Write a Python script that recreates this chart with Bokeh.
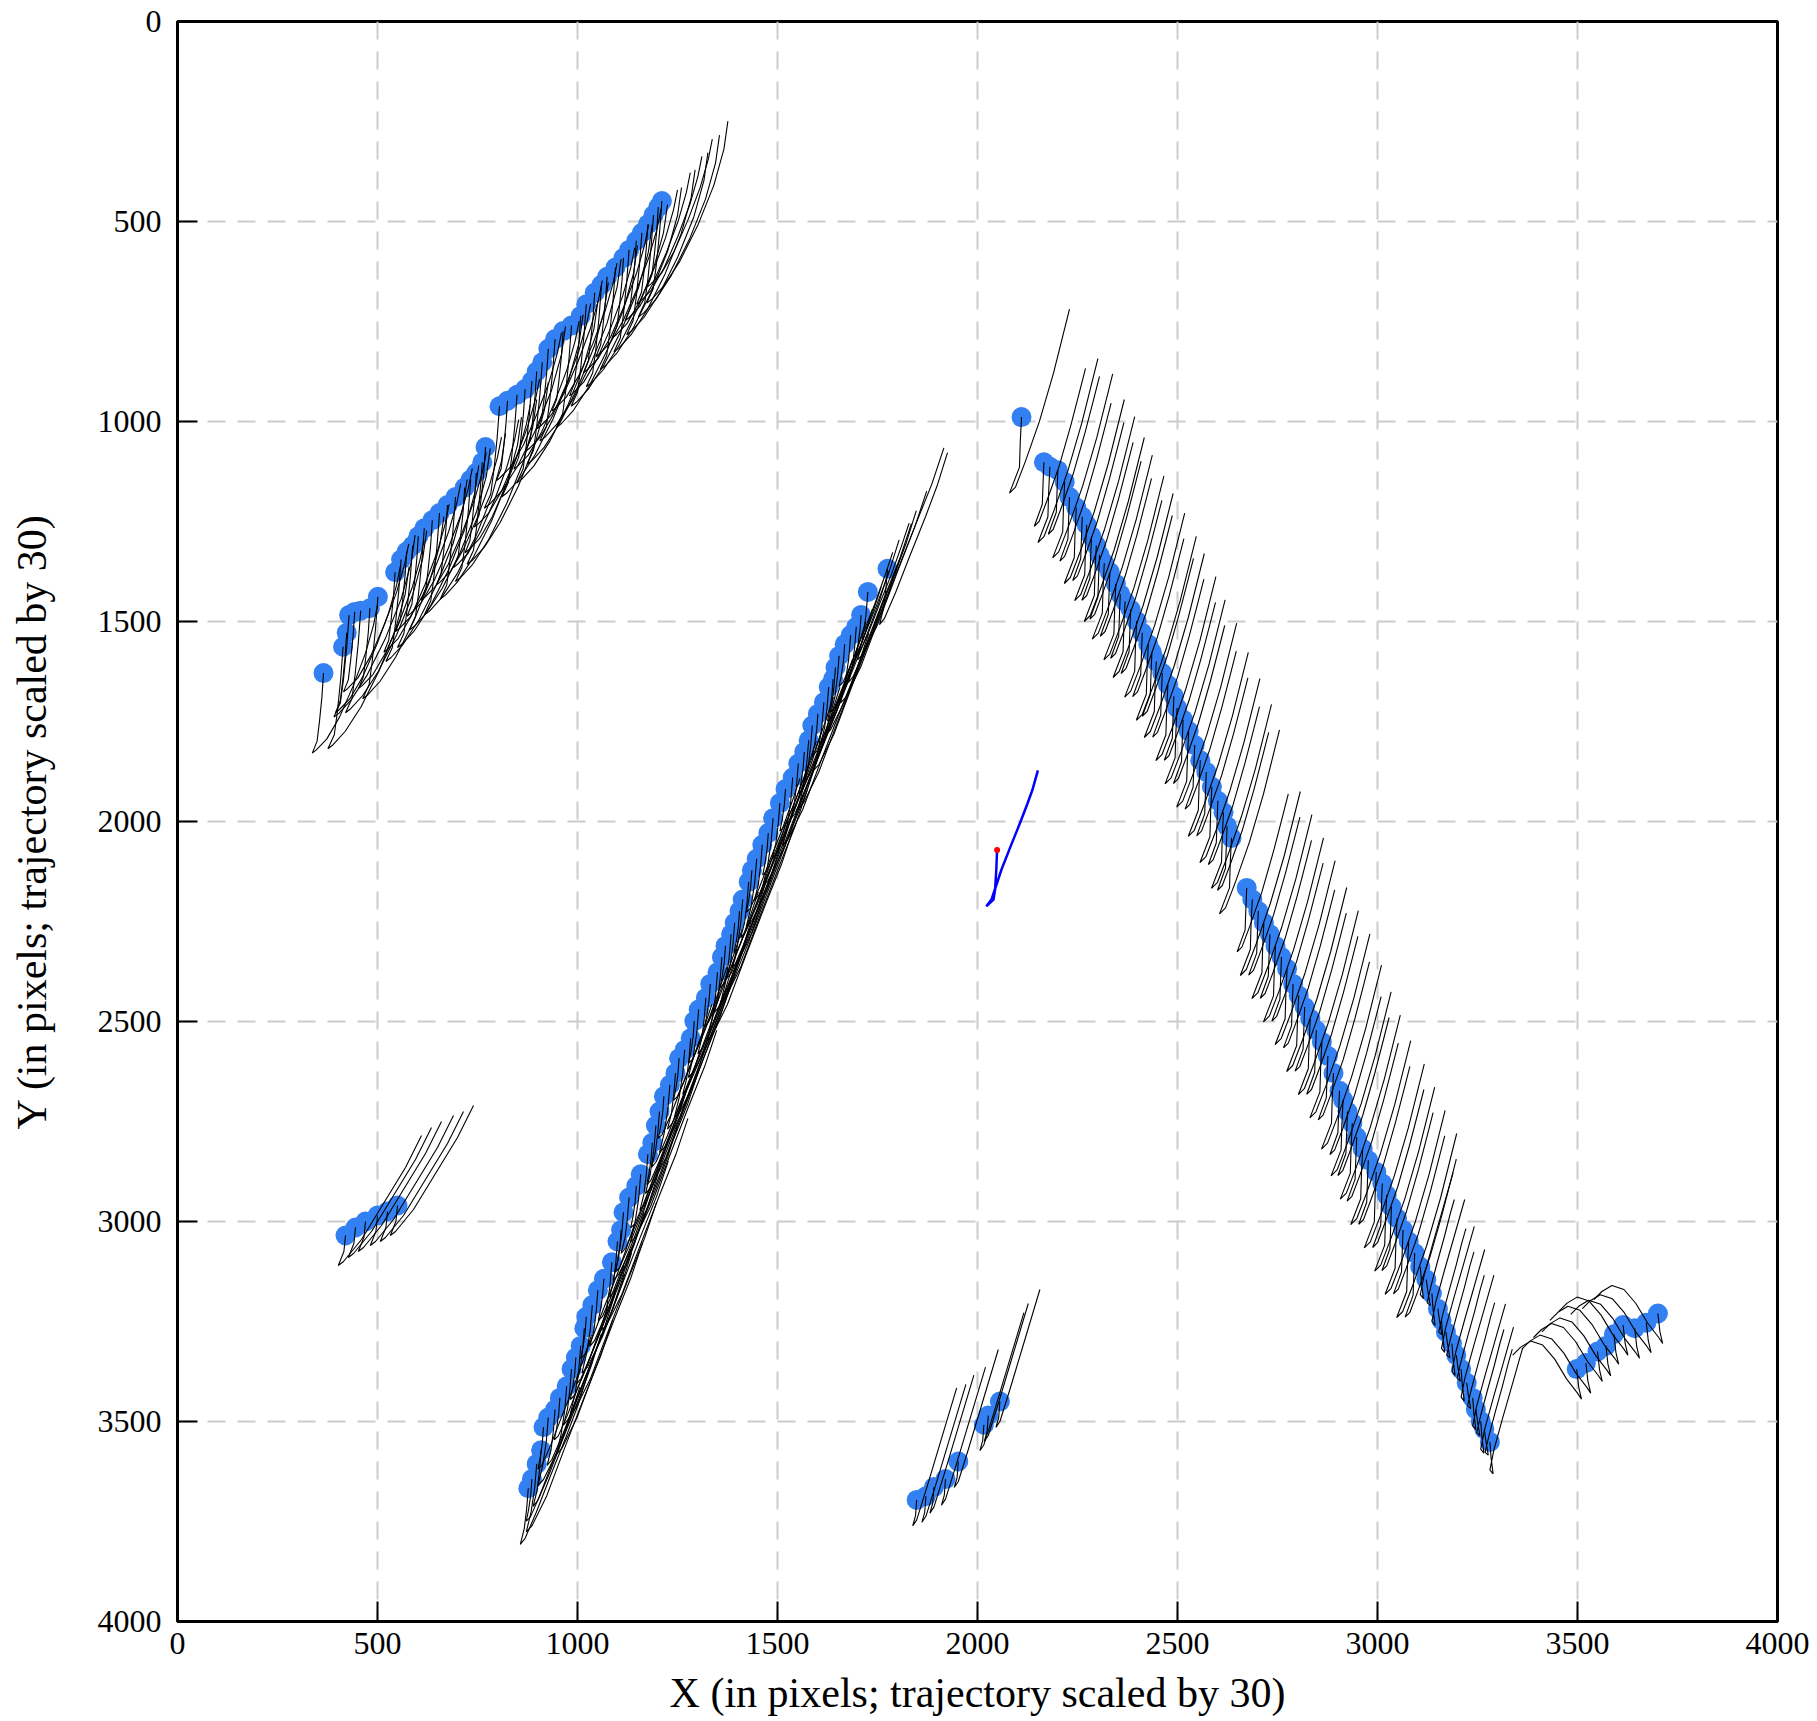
from bokeh.plotting import figure
from bokeh.models import Range1d, FixedTicker
from bokeh.embed import file_html
from bokeh.resources import INLINE

# ---------------- data (image pixel coordinates) ----------------
ticks = [0, 500, 1000, 1500, 2000, 2500, 3000, 3500, 4000]

# cluster A (upper-left band)
a_x = [365, 414, 423, 429, 443, 458, 481, 501, 544, 559, 573, 588, 602, 617, 637, 655, 675, 695,
       718, 733, 747, 762, 770, 805, 825, 849, 869, 886, 898, 912, 927, 944, 964, 985, 1008, 1022,
       1043, 1060, 1074, 1095, 1115, 1129, 1147, 1161, 1176, 1190, 1202, 1211]
a_y = [1629, 1563, 1528, 1484, 1476, 1473, 1467, 1438, 1377, 1345, 1325, 1310, 1287, 1267, 1247,
       1229, 1209, 1189, 1165, 1145, 1128, 1102, 1064, 962, 948, 933, 919, 899, 875, 852, 818, 794,
       774, 760, 736, 707, 678, 658, 638, 615, 591, 571, 548, 528, 507, 484, 464, 449]
a_tpl = [([0, -4, -10, -16, -28, -18, 8, 40, 75, 105, 125, 135],
          [0, 60, 120, 170, 200, 192, 165, 110, 30, -50, -120, -170]),
         ([0, -6, -14, -22, -38, -25, 5, 45, 90, 130, 155, 165],
          [0, 80, 160, 220, 255, 245, 212, 150, 60, -40, -130, -200])]

# cluster B (long middle band)
b_x = [877, 886, 898, 909, 915, 927, 944, 956, 973, 985, 996, 1008, 1017, 1022, 1037, 1051, 1066,
       1086, 1100, 1109, 1115, 1129, 1147, 1158, 1176, 1187, 1196, 1205, 1216, 1231, 1245, 1254,
       1268, 1283, 1292, 1303, 1321, 1332, 1350, 1361, 1370, 1384, 1393, 1405, 1413, 1428, 1436,
       1448, 1462, 1477, 1489, 1506, 1520, 1538, 1552, 1567, 1578, 1587, 1601, 1616, 1628, 1639,
       1645, 1654, 1668, 1683, 1697, 1709, 1726, 1775]
b_y = [3667, 3644, 3606, 3572, 3514, 3490, 3470, 3441, 3412, 3369, 3340, 3311, 3267, 3238, 3209,
       3172, 3143, 3102, 3050, 3021, 2977, 2940, 2911, 2882, 2832, 2803, 2760, 2725, 2687, 2658,
       2629, 2592, 2571, 2542, 2499, 2470, 2441, 2406, 2377, 2339, 2311, 2282, 2253, 2224, 2195,
       2151, 2122, 2093, 2058, 2029, 1992, 1954, 1919, 1890, 1855, 1826, 1797, 1760, 1731, 1702,
       1664, 1644, 1615, 1586, 1557, 1534, 1513, 1484, 1426, 1368]
b_tpl = [([0, -4, -10, -20, -8, 20, 55, 95, 125, 150],
          [0, 50, 100, 140, 125, 60, -30, -130, -210, -290]),
         ([0, -3, -8, -14, -4, 18, 45, 75, 100, 120],
          [0, 40, 75, 105, 95, 45, -25, -100, -170, -230]),
         ([0, -5, -14, -26, -12, 25, 70, 120, 160, 190],
          [0, 60, 120, 170, 155, 80, -40, -170, -270, -360])]

# cluster C, upper part (right descending band)
c_x = [2110, 2166, 2181, 2201, 2218, 2230, 2247, 2262, 2273, 2285, 2297, 2305, 2317, 2331, 2346,
       2357, 2369, 2383, 2398, 2412, 2427, 2436, 2447, 2462, 2476, 2491, 2499, 2514, 2528, 2543,
       2557, 2572, 2586, 2601, 2615, 2624, 2635, 2673, 2687, 2702, 2716, 2731, 2745, 2760, 2774,
       2789, 2803, 2818, 2832, 2847, 2861, 2876, 2890, 2905, 2914, 2925, 2937, 2948, 2963, 2977,
       2997, 3012, 3023, 3035, 3049, 3064, 3078, 3093]
c_y = [989, 1102, 1113, 1122, 1151, 1189, 1215, 1238, 1258, 1287, 1310, 1334, 1354, 1377, 1406,
       1432, 1450, 1470, 1499, 1528, 1557, 1577, 1600, 1629, 1658, 1687, 1716, 1745, 1774, 1809,
       1847, 1876, 1913, 1948, 1977, 2012, 2041, 2166, 2195, 2224, 2253, 2282, 2311, 2339, 2368,
       2406, 2435, 2464, 2493, 2522, 2551, 2586, 2629, 2673, 2696, 2725, 2754, 2789, 2818, 2847,
       2876, 2905, 2934, 2963, 2992, 3021, 3050, 3079]
c_tpl = [([0, -3, -5, -30, -15, 10, 45, 80, 105, 120],
          [0, 60, 125, 190, 175, 110, 10, -110, -210, -270]),
         ([0, -2, -4, -24, -12, 8, 38, 68, 90, 104],
          [0, 50, 105, 160, 148, 95, 10, -95, -180, -235])]

# cluster C, lowest part (shorter tracks)
g_x = [3107, 3122, 3136, 3151, 3160, 3171, 3186, 3197, 3209, 3223, 3238, 3246, 3258, 3267, 3281]
g_y = [3113, 3145, 3180, 3218, 3247, 3276, 3305, 3334, 3369, 3403, 3441, 3470, 3499, 3519, 3551]
g_tpl = [([0, 3, 8, 0, 10, 32, 55, 72, 82],
          [0, 40, 80, 70, 20, -60, -140, -200, -235]),
         ([0, 4, 10, 2, 12, 28, 46, 60, 70],
          [0, 30, 65, 58, 15, -45, -110, -165, -200])]

# cluster D (small lower-left group)
d_x = [420, 445, 470, 500, 525, 550]
d_y = [3035, 3015, 3000, 2985, 2975, 2960]
d_tpl = [([0, -4, -18, -5, 40, 95, 150, 190],
          [0, 40, 75, 65, 10, -80, -170, -250])]

# cluster E (bottom middle groups)
e_x = [1848, 1871, 1891, 1920, 1952, 2016, 2027, 2056]
e_y = [3696, 3687, 3664, 3644, 3600, 3508, 3485, 3450]
e_tpl = [([0, -3, -10, 0, 25, 55, 85, 100],
          [0, 40, 65, 50, -30, -130, -230, -280])]

# cluster F (lower-right group)
f_x = [3498, 3521, 3550, 3571, 3591, 3614, 3643, 3672, 3701]
f_y = [3369, 3354, 3325, 3311, 3282, 3259, 3267, 3253, 3230]
f_tpl = [([0, 5, 12, 2, -25, -55, -85, -115, -140, -160],
          [0, 45, 75, 60, 25, -25, -60, -70, -55, -35])]

# reference camera trajectory (blue) and its start (red)
ref_x = [2049, 2047, 2044, 2040, 2022, 2035, 2045, 2060, 2082, 2107, 2125, 2137, 2151]
ref_y = [2071, 2120, 2170, 2195, 2212, 2195, 2165, 2120, 2064, 2002, 1955, 1922, 1872]

# ---------------- figure ----------------
FONT = "Liberation Serif"
p = figure(frame_width=1600, frame_height=1600,
           x_range=Range1d(0, 4000), y_range=Range1d(4000, 0),
           output_backend="svg", toolbar_location=None,
           min_border_left=177, min_border_top=21, min_border_right=40, min_border_bottom=96)
p.background_fill_color = "white"
p.border_fill_color = "white"
p.outline_line_color = "black"
p.outline_line_width = 3

for ax in (p.xaxis[0], p.yaxis[0]):
    ax.ticker = FixedTicker(ticks=ticks)
    ax.major_tick_in = 20
    ax.major_tick_out = 0
    ax.minor_tick_line_color = None
    ax.major_tick_line_width = 2
    ax.axis_line_width = 3
    ax.major_label_text_font = FONT
    ax.major_label_text_font_size = "32px"
    ax.major_label_text_color = "black"
    ax.axis_label_text_font = FONT
    ax.axis_label_text_font_size = "42px"
    ax.axis_label_text_font_style = "normal"
    ax.axis_label_text_color = "black"

p.xaxis.axis_label = "X (in pixels; trajectory scaled by 30)"
p.yaxis.axis_label = "Y (in pixels; trajectory scaled by 30)"
p.xaxis.major_label_standoff = 11
p.yaxis.major_label_standoff = 16
p.xaxis.axis_label_standoff = 13
p.yaxis.axis_label_standoff = 40

p.grid.grid_line_color = "#cccccc"
p.grid.grid_line_width = 2
p.grid.grid_line_dash = "18 12"
for g in p.grid:
    g.ticker = FixedTicker(ticks=ticks)

clusters = [(a_x, a_y, a_tpl), (b_x, b_y, b_tpl), (c_x, c_y, c_tpl), (g_x, g_y, g_tpl),
            (d_x, d_y, d_tpl), (e_x, e_y, e_tpl), (f_x, f_y, f_tpl)]

# blue feature points
all_x, all_y = [], []
for xs_, ys_, _ in clusters:
    all_x += xs_
    all_y += ys_
p.scatter(all_x, all_y, size=20, fill_color="#3380F2", line_color=None)

# black per-point trajectories
mx, my = [], []
for px, py, tpl in clusters:
    for i, (x0, y0) in enumerate(zip(px, py)):
        tx, ty = tpl[i % len(tpl)]
        mx.append([x0 + dx for dx in tx])
        my.append([y0 + dy for dy in ty])
p.multi_line(mx, my, line_color="black", line_width=1.1)

# reference trajectory
p.line(ref_x, ref_y, line_color="blue", line_width=2.5)
p.scatter([ref_x[0]], [ref_y[0]], size=6, fill_color="red", line_color=None)

open("out.html", "w").write(file_html(p, INLINE))
